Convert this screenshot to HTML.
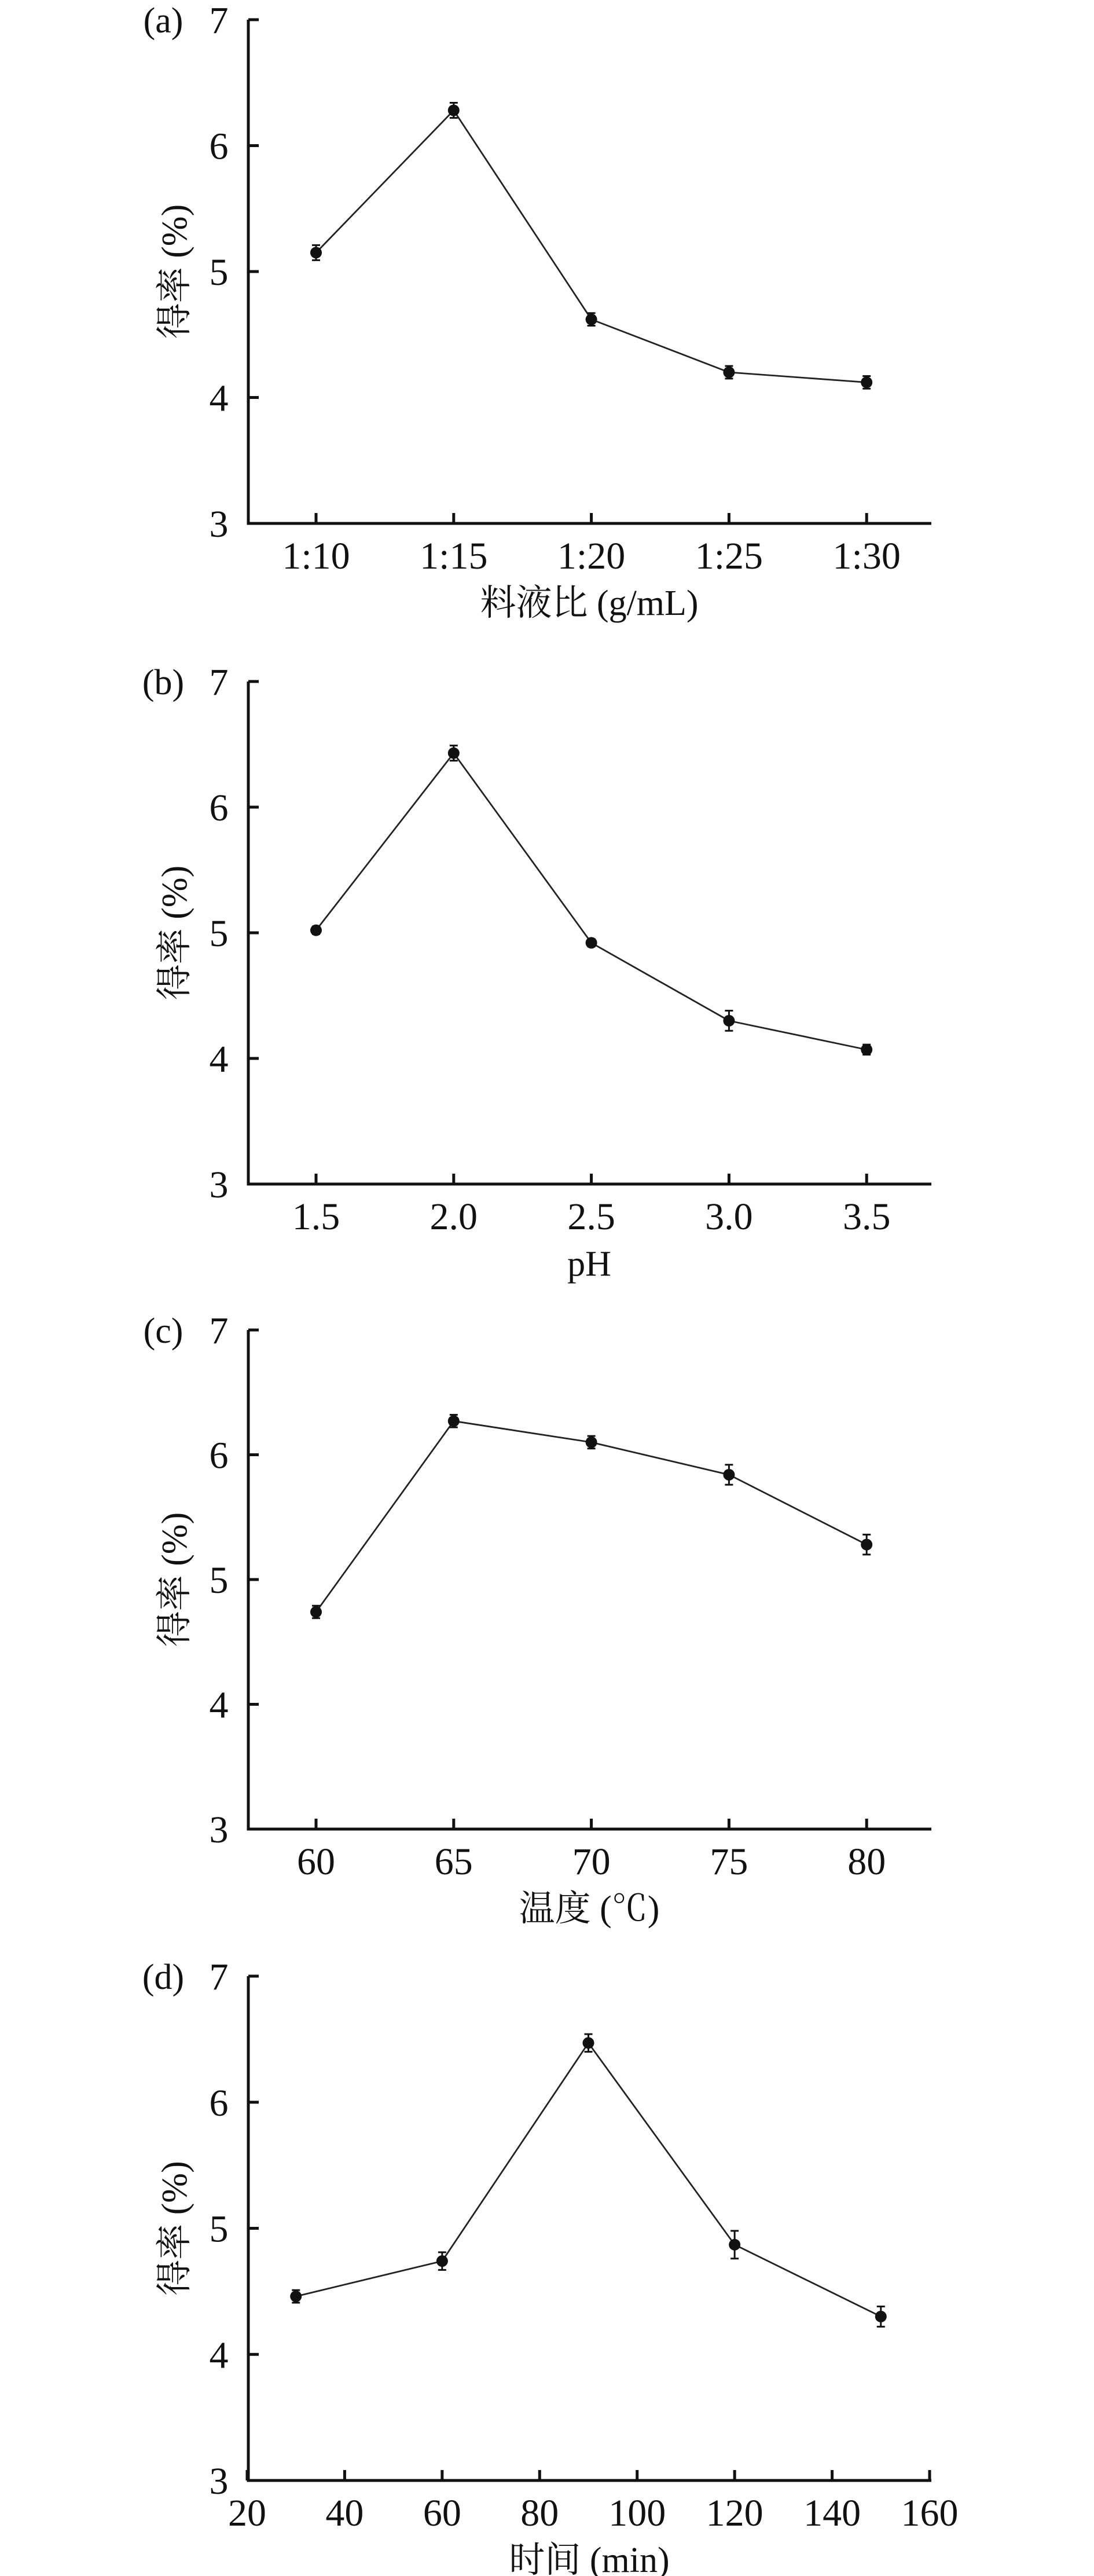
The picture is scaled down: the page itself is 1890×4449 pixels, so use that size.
<!DOCTYPE html>
<html><head><meta charset="utf-8">
<style>
html,body{margin:0;padding:0;background:#fff;}
svg{display:block;}
text{font-family:"Liberation Serif","Noto Serif CJK SC","Noto Sans CJK SC",serif;fill:#111;}
</style></head>
<body>
<svg id="fig" width="1890" height="4449" viewBox="0 0 1890 4449" xmlns="http://www.w3.org/2000/svg"></svg>
<script>
// Panel (a)
const aCategories = ["1:10","1:15","1:20","1:25","1:30"];
const aValues = [5.15, 6.28, 4.62, 4.20, 4.12];
const aErrors = [0.06, 0.06, 0.05, 0.05, 0.05];
// Panel (b)
const bCategories = ["1.5","2.0","2.5","3.0","3.5"];
const bValues = [5.02, 6.43, 4.92, 4.30, 4.07];
const bErrors = [0.03, 0.06, 0.03, 0.08, 0.04];
// Panel (c)
const cCategories = ["60","65","70","75","80"];
const cValues = [4.74, 6.27, 6.10, 5.84, 5.28];
const cErrors = [0.05, 0.05, 0.05, 0.08, 0.08];
// Panel (d)
const dX = [30, 60, 90, 120, 150];
const dValues = [4.46, 4.74, 6.47, 4.87, 4.30];
const dErrors = [0.05, 0.07, 0.07, 0.11, 0.08];
const dTickLabels = [20, 40, 60, 80, 100, 120, 140, 160];
const yTickLabels = [3, 4, 5, 6, 7];

const NS = "http://www.w3.org/2000/svg";
const svg = document.getElementById('fig');
function mk(tag, attrs, parent) {
  const e = document.createElementNS(NS, tag);
  for (const k in attrs) e.setAttribute(k, attrs[k]);
  (parent || svg).appendChild(e);
  return e;
}
const X0 = 429, X1 = 1609;

function panel(id, label, top, bottom, xTitle, points, xScale, xTicks) {
  const g = mk('g', {});
  
  
  const y = v => bottom - (v - 3) / 4 * (bottom - top);
  const ax = mk('path', {d: `M${X0} ${top} V${bottom} H${X1}`, fill: 'none', stroke: '#111', 'stroke-width': 5}, g);
  
  
  yTickLabels.forEach(v => {
    const t = mk('line', {x1: X0, x2: X0 + 18, y1: y(v), y2: y(v), stroke: '#111', 'stroke-width': 5}, g);
    
    
    const tl = mk('text', {x: 378, y: y(v) + 23, 'font-size': 66, 'text-anchor': 'middle'}, g);
    tl.textContent = v;
    
    
  });
  xTicks.forEach(tk => {
    const px = xScale(tk.v);
    const t = mk('line', {x1: px, x2: px, y1: bottom, y2: bottom - 18, stroke: '#111', 'stroke-width': 5}, g);
    
    
    const tl = mk('text', {x: px, y: bottom + 78, 'font-size': 66, 'text-anchor': 'middle'}, g);
    tl.textContent = tk.label;
    
    
  });
  const d = points.map((p, i) => (i ? 'L' : 'M') + xScale(p.x) + ' ' + y(p.v)).join(' ');
  const ln = mk('path', {d: d, fill: 'none', stroke: '#222', 'stroke-width': 2.8}, g);
  
  
  points.forEach(p => {
    const px = xScale(p.x);
    const eb = mk('path', {d: `M${px} ${y(p.v + p.e)} V${y(p.v - p.e)} M${px - 7} ${y(p.v + p.e)} H${px + 7} M${px - 7} ${y(p.v - p.e)} H${px + 7}`, stroke: '#111', 'stroke-width': 3, fill: 'none'}, g);
    
    
    const c = mk('circle', {cx: px, cy: y(p.v), r: 10, fill: '#111'}, g);
    
    
  });
  const pl = mk('text', {x: 282, y: top + 22, 'font-size': 62, 'text-anchor': 'middle'}, g);
  pl.textContent = label;
  
  
  const cy = (top + bottom) / 2;
  const yt = mk('text', {x: 0, y: 0, 'font-size': 62, 'text-anchor': 'middle', transform: `translate(322 ${cy}) rotate(-90)`}, g);
  yt.textContent = '得率 (%)';
  
  
  const xt = mk('text', {x: 1018, y: bottom + 158, 'font-size': 62, 'text-anchor': 'middle'}, g);
  xt.textContent = xTitle;
  
  
}

function catScale(i) { return 546 + i * 237.8; }
function catPanel(id, label, top, bottom, title, cats, vals, errs) {
  const pts = vals.map((v, i) => ({x: i, v: v, e: errs[i]}));
  const ticks = cats.map((c, i) => ({v: i, label: c}));
  panel(id, label, top, bottom, title, pts, catScale, ticks);
}
catPanel('a', '(a)', 34, 904, '料液比 (g/mL)', aCategories, aValues, aErrors);
catPanel('b', '(b)', 1177, 2045, 'pH', bCategories, bValues, bErrors);
catPanel('c', '(c)', 2297, 3159, '温度 (℃)', cCategories, cValues, cErrors);
const dScale = v => 427 + (v - 20) / 140 * (1606 - 427);
panel('d', '(d)', 3413, 4284, '时间 (min)',
  dX.map((x, i) => ({x: x, v: dValues[i], e: dErrors[i]})),
  dScale, dTickLabels.map(v => ({v: v, label: String(v)})));
</script>
</body></html>
